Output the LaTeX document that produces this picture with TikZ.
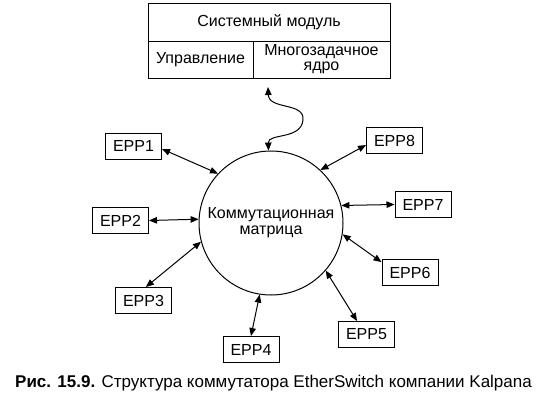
\documentclass[tikz,border=0pt]{standalone}
\usepackage{fontspec}
\setmainfont{Liberation Sans}
\usetikzlibrary{arrows.meta}
\begin{document}
\begin{tikzpicture}[x=1pt,y=-1pt,
  line width=1pt,
  lbl/.style={font=\fontsize{16}{18}\selectfont},
  epp/.style={draw, lbl, minimum width=56pt, minimum height=26pt, inner sep=0pt},
  cell/.style={draw, lbl, inner sep=0pt, align=center},
  link/.style={{Triangle[length=8pt,width=6.5pt]}-{Triangle[length=8pt,width=6.5pt]}, line width=1pt}]
\useasboundingbox (0,0) rectangle (547,400);
% system module
\node[cell, minimum width=242pt, minimum height=38pt] (sys) at (269,22) {Системный модуль};
\node[cell, minimum width=105pt, minimum height=37pt] (ctl) at (200.5,59.5) {Управление};
\node[cell, minimum width=137pt, minimum height=37pt] (kern) at (321.5,59.5) {Многозадачное\\[-3pt]ядро};
% matrix
\node[draw, circle, minimum size=144pt, inner sep=0pt, lbl, align=center] (mx) at (271,223)
  {Коммутационная\\[-2pt]матрица};
% ports
\node[epp] (e1) at (133.5,146) {EPP1};
\node[epp] (e2) at (120.5,220.5) {EPP2};
\node[epp] (e3) at (143.5,300.5) {EPP3};
\node[epp] (e4) at (251,349.5) {EPP4};
\node[epp] (e5) at (366.5,334.5) {EPP5};
\node[epp] (e6) at (410,272.5) {EPP6};
\node[epp] (e7) at (423,204.5) {EPP7};
\node[epp] (e8) at (394.5,140.5) {EPP8};
% links
\draw[link] (e1.-6) -- (mx.137);
\draw[link] (e2.east) -- (mx.177);
\draw[link] (e3.80) -- (mx.195);
\draw[link] (e4.north) -- (mx.261);
\draw[link] (e5.125) -- (mx.319);
\draw[link] (e6.160) -- (mx.351);
\draw[link] (e7.west) -- (mx.14);
\draw[link] (e8.189) -- (mx.47);
% wavy link to system module
\coordinate (wtop) at (268,87);
\draw[link] (mx.92) .. controls (268,133) and (301,140) .. (303,120)
  .. controls (305,102) and (269,110) .. (wtop);
% caption
\node[font=\fontsize{17}{20}\selectfont] (cap) at (273.5,383)
  {\textbf{Рис. 15.9.} Структура коммутатора EtherSwitch компании Kalpana};
\end{tikzpicture}
\end{document}
